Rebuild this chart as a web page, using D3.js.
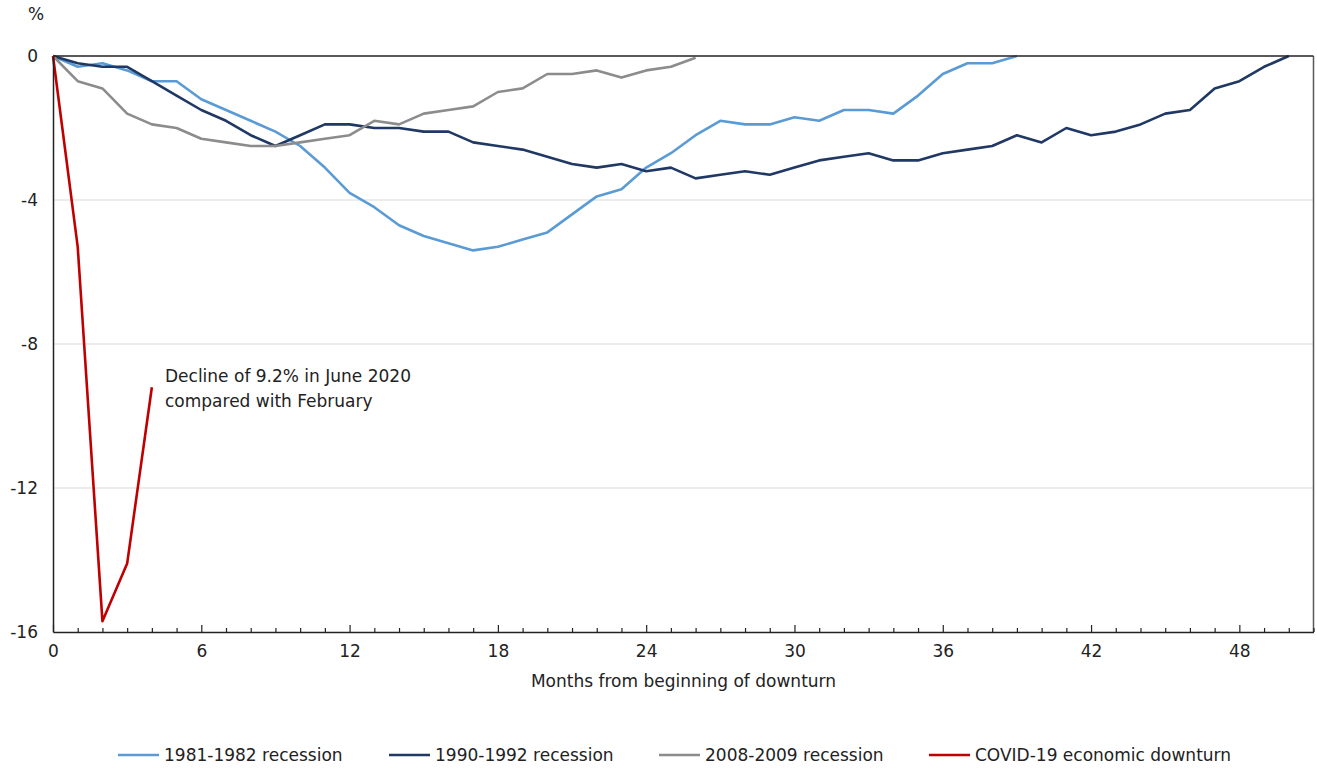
<!DOCTYPE html>
<html><head><meta charset="utf-8">
<script src="https://cdn.jsdelivr.net/npm/d3@7"></script>
<style>
html,body{margin:0;padding:0;background:#fff;}
svg{display:block;}
text{font-family:"DejaVu Sans",Verdana,sans-serif;fill:#222;}
</style></head>
<body>
<svg id="chart" width="1317" height="768"></svg>
<script>
// ---- data ----
const seriesNames = ["1981-1982 recession","1990-1992 recession","2008-2009 recession","COVID-19 economic downturn"];
const seriesColors = ["#5b9bd5","#1f3864","#8c8c8c","#c00000"];
const rec8182 = [0,-0.3,-0.2,-0.4,-0.7,-0.7,-1.2,-1.5,-1.8,-2.1,-2.5,-3.1,-3.8,-4.2,-4.7,-5.0,-5.2,-5.4,-5.3,-5.1,-4.9,-4.4,-3.9,-3.7,-3.1,-2.7,-2.2,-1.8,-1.9,-1.9,-1.7,-1.8,-1.5,-1.5,-1.6,-1.1,-0.5,-0.2,-0.2,0];
const rec9092 = [0,-0.2,-0.3,-0.3,-0.7,-1.1,-1.5,-1.8,-2.2,-2.5,-2.2,-1.9,-1.9,-2.0,-2.0,-2.1,-2.1,-2.4,-2.5,-2.6,-2.8,-3.0,-3.1,-3.0,-3.2,-3.1,-3.4,-3.3,-3.2,-3.3,-3.1,-2.9,-2.8,-2.7,-2.9,-2.9,-2.7,-2.6,-2.5,-2.2,-2.4,-2.0,-2.2,-2.1,-1.9,-1.6,-1.5,-0.9,-0.7,-0.3,0];
const rec0809 = [0,-0.7,-0.9,-1.6,-1.9,-2.0,-2.3,-2.4,-2.5,-2.5,-2.4,-2.3,-2.2,-1.8,-1.9,-1.6,-1.5,-1.4,-1.0,-0.9,-0.5,-0.5,-0.4,-0.6,-0.4,-0.3,-0.05];
const covid = [0,-5.3,-15.7,-14.1,-9.2];
const yTicks = [0,-4,-8,-12,-16];
const xTickLabels = [0,6,12,18,24,30,36,42,48];
const xMax = 51;
const yLabel = "%";
const xTitle = "Months from beginning of downturn";
const annotation = ["Decline of 9.2% in June 2020","compared with February"];

// ---- chart ----
const FS = 17;
const svg = d3.select("#chart");
const L = 53, R = 1313.5, T = 56, B = 632;
const x = d3.scaleLinear().domain([0, xMax]).range([L, R]);
const y = d3.scaleLinear().domain([-16, 0]).range([B, T]);
const allSeries = [rec8182, rec9092, rec0809, covid];

// gridlines
svg.append("g").selectAll("line").data(yTicks.filter(d => d !== 0 && d !== -16)).join("line")
  .attr("x1", L).attr("x2", R).attr("y1", d => y(d)).attr("y2", d => y(d))
  .attr("stroke", "#d9d9d9").attr("stroke-width", 1);

// lines
const line = d3.line().x((d, i) => x(i)).y(d => y(d));
svg.append("g").selectAll("path").data(allSeries).join("path")
  .attr("d", d => line(d)).attr("fill", "none")
  .attr("stroke", (d, i) => seriesColors[i]).attr("stroke-width", 2.6)
  .attr("stroke-linejoin", "round");

// frame
svg.append("line").attr("x1", R).attr("x2", R).attr("y1", T).attr("y2", B).attr("stroke", "#595959").attr("stroke-width", 1.5);
svg.append("line").attr("x1", L).attr("x2", R).attr("y1", T).attr("y2", T).attr("stroke", "#222").attr("stroke-width", 1.5);

// x axis
const xAxis = d3.axisBottom(x).tickValues(d3.range(0, xMax + 1)).tickSize(0).tickFormat(d => xTickLabels.includes(d) ? String(d) : "");
const gx = svg.append("g").attr("transform", `translate(0,${B})`).call(xAxis);
gx.select(".domain").attr("stroke", "#222").attr("stroke-width", 1.5);
gx.selectAll(".tick line").attr("y2", d => d % 6 === 0 ? -7 : -4).attr("stroke", "#222").attr("stroke-width", 1.2);
gx.selectAll(".tick text").attr("dy", 0).attr("y", 25).attr("font-size", FS).attr("fill", "#222")
  .style("font-family", '"DejaVu Sans",Verdana,sans-serif');

// y axis
const yAxis = d3.axisLeft(y).tickValues(yTicks).tickSize(0).tickPadding(15).tickFormat(d => String(d));
const gy = svg.append("g").attr("transform", `translate(${L},0)`).call(yAxis);
gy.select(".domain").attr("stroke", "#222").attr("stroke-width", 1.5);
gy.selectAll(".tick text").attr("font-size", FS).attr("fill", "#222")
  .style("font-family", '"DejaVu Sans",Verdana,sans-serif');

// labels
svg.append("text").attr("x", 28).attr("y", 20).attr("font-size", FS).text(yLabel);
svg.append("text").attr("x", 683.5).attr("y", 687).attr("text-anchor", "middle").attr("font-size", FS).text(xTitle);

// annotation
svg.append("g").selectAll("text").data(annotation).join("text")
  .attr("x", 165).attr("y", (d, i) => 382 + i * 25).attr("font-size", FS).text(d => d);

// legend
const legX = [118, 389, 659, 929];
const lg = svg.append("g").selectAll("g").data(seriesNames).join("g")
  .attr("transform", (d, i) => `translate(${legX[i]},755)`);
lg.append("line").attr("x1", 0).attr("x2", 41).attr("y1", 0).attr("y2", 0)
  .attr("stroke", (d, i) => seriesColors[i]).attr("stroke-width", 2.6);
lg.append("text").attr("x", 46).attr("y", 6).attr("font-size", FS).text(d => d);
</script>
</body></html>
